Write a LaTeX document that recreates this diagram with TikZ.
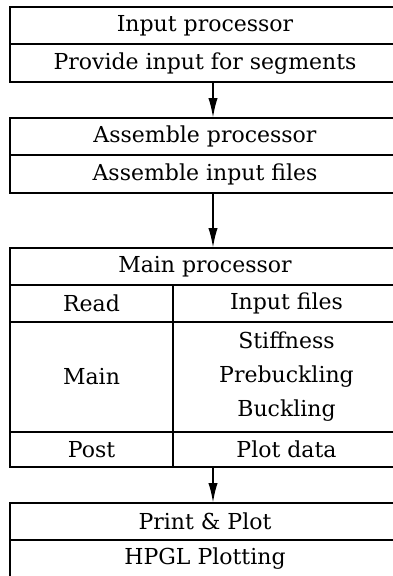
\documentclass[tikz,border=0pt]{standalone}
\usepackage{fontspec}
\setmainfont{DejaVu Serif}
\usetikzlibrary{positioning}
\usetikzlibrary{arrows.meta}
\begin{document}
\begin{tikzpicture}[x=0.75pt,y=-0.75pt,
  cell/.style={draw,line width=1.5pt,outer sep=0pt,inner sep=0pt,minimum width=292.5pt,minimum height=28.1pt,align=center,font=\fontsize{16.5}{25.5}\selectfont},
  arr/.style={-{Latex[length=15pt,width=7pt]},line width=1.5pt}]
\useasboundingbox (0,0) rectangle (393,576);
\clip (0,0) rectangle (393,576);
\coordinate (ax) at (213,0);
% Input processor
\node[cell,anchor=north west] (ip) at (10,7) {Input processor};
\node[cell,below=0pt of ip] (ipd) {Provide input for segments};
% Assemble processor
\node[cell,anchor=north west] (ap) at (10,118) {Assemble processor};
\node[cell,below=0pt of ap] (apd) {Assemble input files};
% Main processor
\node[cell,anchor=north west,minimum height=27.75pt] (mp) at (10,248) {Main processor};
\node[cell,anchor=north west,minimum width=122.25pt,minimum height=27.75pt] (rd) at (mp.south west) {Read};
\node[cell,anchor=north west,minimum width=170.25pt,minimum height=27.75pt] (rdf) at (rd.north east) {Input files};
\node[cell,anchor=north west,minimum width=122.25pt,minimum height=82.5pt] (mn) at (rd.south west) {Main};
\node[cell,anchor=north west,minimum width=170.25pt,minimum height=82.5pt] (mnf) at (mn.north east) {Stiffness\\Prebuckling\\Buckling};
\node[cell,anchor=north west,minimum width=122.25pt,minimum height=26.25pt] (pst) at (mn.south west) {Post};
\node[cell,anchor=north west,minimum width=170.25pt,minimum height=26.25pt] (pstd) at (pst.north east) {Plot data};
% Print & Plot
\node[cell,anchor=north west,minimum height=27.75pt] (pp) at (10,503) {Print \& Plot};
\node[cell,below=0pt of pp,minimum height=28.5pt] (hp) {HPGL Plotting};
% arrows
\draw[arr] (ipd.south -| ax) -- (ap.north -| ax);
\draw[arr] (apd.south -| ax) -- (mp.north -| ax);
\draw[arr] (pst.south -| ax) -- (pp.north -| ax);
\end{tikzpicture}
\end{document}
